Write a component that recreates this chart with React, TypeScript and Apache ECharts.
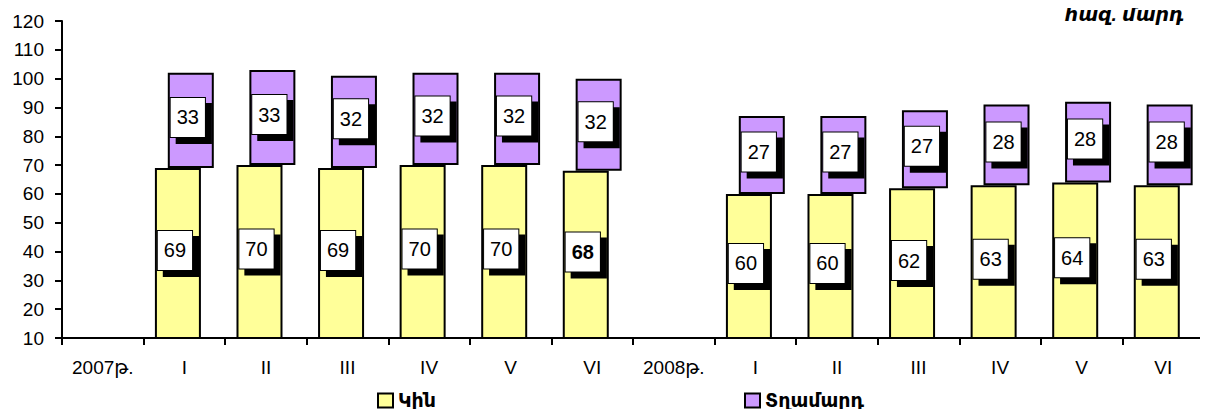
import React, { useEffect, useRef } from "react";
import * as echarts from "echarts";

const categories = ["2007թ.", "I", "II", "III", "IV", "V", "VI", "2008թ.", "I", "II", "III", "IV", "V", "VI"];
const women = [null, 69, 70, 69, 70, 70, 68, null, 60, 60, 62, 63, 64, 63];
const men = [null, 33, 33, 32, 32, 32, 32, null, 27, 27, 27, 28, 28, 28];
const boldLabelIndex = 6;
const yTicks = { min: 10, max: 120, interval: 10 };
const unitLabel = "հազ. մարդ";
const seriesNames = ["Կին", "Տղամարդ"];

const FONT = "'Liberation Sans', Arial, 'DejaVu Sans', sans-serif";

export default function App() {
  const ref = useRef<HTMLDivElement>(null);
  useEffect(() => {
    if (!ref.current) return;
    const chart = echarts.init(ref.current, undefined, { renderer: "svg" });
    const labelBox = {
      show: true,
      position: "inside",
      color: "#000",
      fontFamily: FONT,
      fontSize: 20,
      backgroundColor: "#fff",
      borderColor: "#000",
      borderWidth: 1,
      padding: [10, 6, 9, 6],
      shadowColor: "#000",
      shadowBlur: 0,
      shadowOffsetX: 6,
      shadowOffsetY: 6,
      offset: [-3, -3],
      formatter: (p: any) => String(Math.round(p.value)),
    };
    const barW = 46;
    const gap = "-72%";
    const womenData = women.map((v, i) =>
      i === boldLabelIndex && v != null ? { value: v, label: { fontWeight: "bold" } } : v
    );
    const legendText = { fontSize: 19, fontWeight: "bold", color: "#000", fontFamily: FONT };
    chart.setOption({
      animation: false,
      textStyle: { fontFamily: FONT },
      grid: { left: 62, right: 4, top: 21, bottom: 79, containLabel: false },
      legend: [
        {
          data: [seriesNames[0]],
          left: 377,
          top: 391,
          padding: 0,
          icon: "rect",
          itemWidth: 15,
          itemHeight: 14,
          itemGap: 6,
          textStyle: legendText,
        },
        {
          data: [seriesNames[1]],
          left: 744,
          top: 391,
          padding: 0,
          icon: "rect",
          itemWidth: 15,
          itemHeight: 14,
          itemGap: 6,
          textStyle: legendText,
        },
      ],
      xAxis: {
        type: "category",
        data: categories,
        axisLine: { lineStyle: { color: "#000", width: 2 } },
        axisTick: { show: true, length: 7, lineStyle: { color: "#000", width: 2 } },
        axisLabel: { color: "#000", fontSize: 19, margin: 20, fontFamily: FONT, interval: 0 },
        splitLine: { show: false },
      },
      yAxis: {
        type: "value",
        min: yTicks.min,
        max: yTicks.max,
        interval: yTicks.interval,
        axisLine: { show: true, lineStyle: { color: "#000", width: 2 } },
        axisTick: { show: true, length: 7, lineStyle: { color: "#000", width: 2 } },
        axisLabel: { color: "#000", fontSize: 19, margin: 18, fontFamily: FONT },
        splitLine: { show: false },
      },
      graphic: [
        {
          type: "text",
          right: 24,
          top: 5,
          style: {
            text: unitLabel,
            font: `italic bold 19px ${FONT}`,
            fill: "#000",
          },
        },
      ],
      series: [
        {
          name: seriesNames[0],
          type: "bar",
          stack: "w",
          data: womenData,
          barWidth: barW,
          barGap: gap,
          itemStyle: { color: "#FFFF99", borderColor: "#000", borderWidth: 2 },
          label: labelBox,
          z: 2,
        },
        {
          name: "base",
          type: "bar",
          stack: "m",
          data: women,
          barWidth: barW,
          barGap: gap,
          itemStyle: { color: "rgba(0,0,0,0)", borderWidth: 0 },
          label: { show: false },
          silent: true,
          z: 2,
        },
        {
          name: seriesNames[1],
          type: "bar",
          stack: "m",
          data: men,
          barWidth: barW,
          barGap: gap,
          itemStyle: { color: "#CC99FF", borderColor: "#000", borderWidth: 2 },
          label: labelBox,
          z: 2,
        },
      ],
    });
    return () => chart.dispose();
  }, []);
  return <div ref={ref} style={{ width: 1208, height: 417, margin: -8 }} />;
}
